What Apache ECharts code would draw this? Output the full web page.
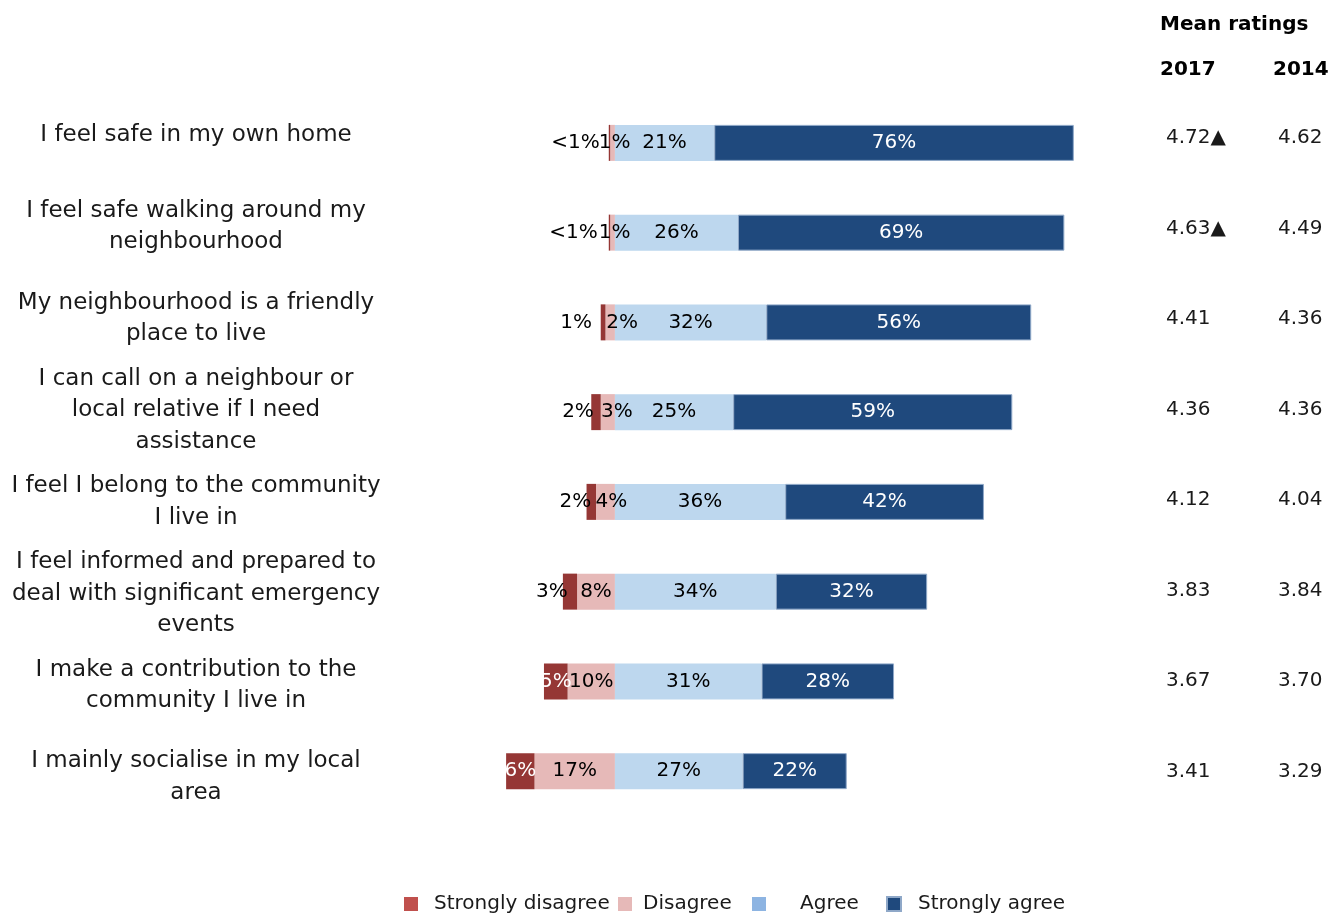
<!DOCTYPE html>
<html>
<head>
<meta charset="utf-8">
<script src="https://cdn.jsdelivr.net/npm/echarts@6/dist/echarts.min.js"></script>
<style>
html,body{margin:0;padding:0;background:#fff;}
#chart{width:1340px;height:916px;}
</style>
</head>
<body>
<div id="chart"></div>
<script>
// ---- DATA ----
var categories = [
  "I feel safe in my own home",
  "I feel safe walking around my\nneighbourhood",
  "My neighbourhood is a friendly\nplace to live",
  "I can call on a neighbour or\nlocal relative if I need\nassistance",
  "I feel I belong to the community\nI live in",
  "I feel informed and prepared to\ndeal with significant emergency\nevents",
  "I make a contribution to the\ncommunity I live in",
  "I mainly socialise in my local\narea"
];
var stronglyDisagree = [0.3, 0.3, 1, 2, 2, 3, 5, 6];
var disagree = [1, 1, 2, 3, 4, 8, 10, 17];
var agree = [21, 26, 32, 25, 36, 34, 31, 27];
var stronglyAgree = [76, 69, 56, 59, 42, 32, 28, 22];
var mean2017 = [4.72, 4.63, 4.41, 4.36, 4.12, 3.83, 3.67, 3.41];
var mean2014 = [4.62, 4.49, 4.36, 4.36, 4.04, 3.84, 3.70, 3.29];
var significant2017 = [true, true, false, false, false, false, false, false];
var seriesNames = ["Strongly disagree", "Disagree", "Agree", "Strongly agree"];

// ---- STYLE ----
var FONT = "DejaVu Sans";
var colSD = "#953735", colD = "#E6B9B8", colA = "#BDD7EE", colSA = "#1F497D";
var legendColors = ["#C0504D", "#E6B9B8", "#8DB4E2", "#1F497D"];
var legendLeft = [399, 613, 747, 881];
var legendTextPad = [11, 6, 29, 12];
var sdLabelOffset = [-34, -36, -27, -18, -16, -18, 0, 0];
var dLabelOffset = [2, 2, 12, 9, 6, 0, 0, 0];

function pct(v) { return v < 1 ? "<1%" : Math.round(v) + "%"; }

var sdData = stronglyDisagree.map(function (v, i) {
  var inside = sdLabelOffset[i] === 0;
  return {
    value: -v,
    label: { offset: [sdLabelOffset[i], 0], color: inside ? "#fff" : "#000" }
  };
});
var dData = disagree.map(function (v, i) {
  return { value: -v, label: { offset: [dLabelOffset[i], 0] } };
});

var labelBase = { show: true, position: "inside", fontFamily: FONT, fontSize: 20 };
var hiddenCat = { axisLine: { show: false }, axisTick: { show: false }, splitLine: { show: false } };

var chart = echarts.init(document.getElementById("chart"), null, { renderer: "canvas" });
var option = {
  animation: false,
  backgroundColor: "#fff",
  grid: [
    { left: 473, right: 252, top: 98, bottom: 100 },
    { left: 473, right: 252, top: 89, bottom: 93 },
    { left: 473, right: 252, top: 93, bottom: 99 }
  ],
  xAxis: [
    { type: "value", min: -30, max: 100, show: false, gridIndex: 0 },
    { type: "value", min: 0, max: 1, show: false, gridIndex: 1 },
    { type: "value", min: 0, max: 1, show: false, gridIndex: 2 }
  ],
  yAxis: [
    Object.assign({ type: "category", data: categories, inverse: true, gridIndex: 0,
      axisLabel: { show: false } }, hiddenCat),
    Object.assign({ type: "category", data: categories, inverse: true, gridIndex: 1,
      axisLabel: { align: "center", margin: 277, fontFamily: FONT, fontSize: 23, color: "#1a1a1a", lineHeight: 31.5 } }, hiddenCat),
    Object.assign({ type: "category", data: categories, inverse: true, gridIndex: 2, position: "right",
      axisLabel: {
        align: "left", margin: 78, fontFamily: FONT, fontSize: 20, color: "#1a1a1a",
        formatter: function (v, i) { return mean2017[i].toFixed(2) + (significant2017[i] ? "\u25B2" : ""); }
      } }, hiddenCat),
    Object.assign({ type: "category", data: categories, inverse: true, gridIndex: 2, position: "right",
      axisLabel: {
        align: "left", margin: 190, fontFamily: FONT, fontSize: 20, color: "#1a1a1a",
        formatter: function (v, i) { return mean2014[i].toFixed(2); }
      } }, hiddenCat)
  ],
  legend: seriesNames.map(function (n, i) {
    return {
      top: 889, left: legendLeft[i], itemWidth: 14, itemHeight: 14, itemGap: 0, icon: "rect",
      textStyle: { fontFamily: FONT, fontSize: 20, color: "#1a1a1a", padding: [0, 0, 0, legendTextPad[i]] },
      data: [{ name: n, itemStyle: { color: legendColors[i] } }]
    };
  }),
  graphic: [
    { type: "text", left: 1160, top: 15, style: { text: "Mean ratings", font: "bold 20px '" + FONT + "'", fill: "#000" } },
    { type: "text", left: 1160, top: 60, style: { text: "2017", font: "bold 20px '" + FONT + "'", fill: "#000" } },
    { type: "text", left: 1273, top: 60, style: { text: "2014", font: "bold 20px '" + FONT + "'", fill: "#000" } }
  ],
  series: [
    {
      name: "Disagree", type: "bar", stack: "total", barWidth: 36, data: dData,
      itemStyle: { color: colD },
      label: Object.assign({}, labelBase, { color: "#000", formatter: function (p) { return pct(-p.value); } })
    },
    {
      name: "Strongly disagree", type: "bar", stack: "total", barWidth: 36, data: sdData,
      itemStyle: { color: colSD },
      label: Object.assign({}, labelBase, { formatter: function (p) { return pct(-p.value); } })
    },
    {
      name: "Agree", type: "bar", stack: "total", barWidth: 36, data: agree,
      itemStyle: { color: colA },
      label: Object.assign({}, labelBase, { color: "#000", formatter: function (p) { return pct(p.value); } })
    },
    {
      name: "Strongly agree", type: "bar", stack: "total", barWidth: 36, data: stronglyAgree,
      itemStyle: { color: colSA, borderColor: "#8FA8C8", borderWidth: 1 },
      label: Object.assign({}, labelBase, { color: "#fff", formatter: function (p) { return pct(p.value); } })
    }
  ]
};
chart.setOption(option);
</script>
</body>
</html>
